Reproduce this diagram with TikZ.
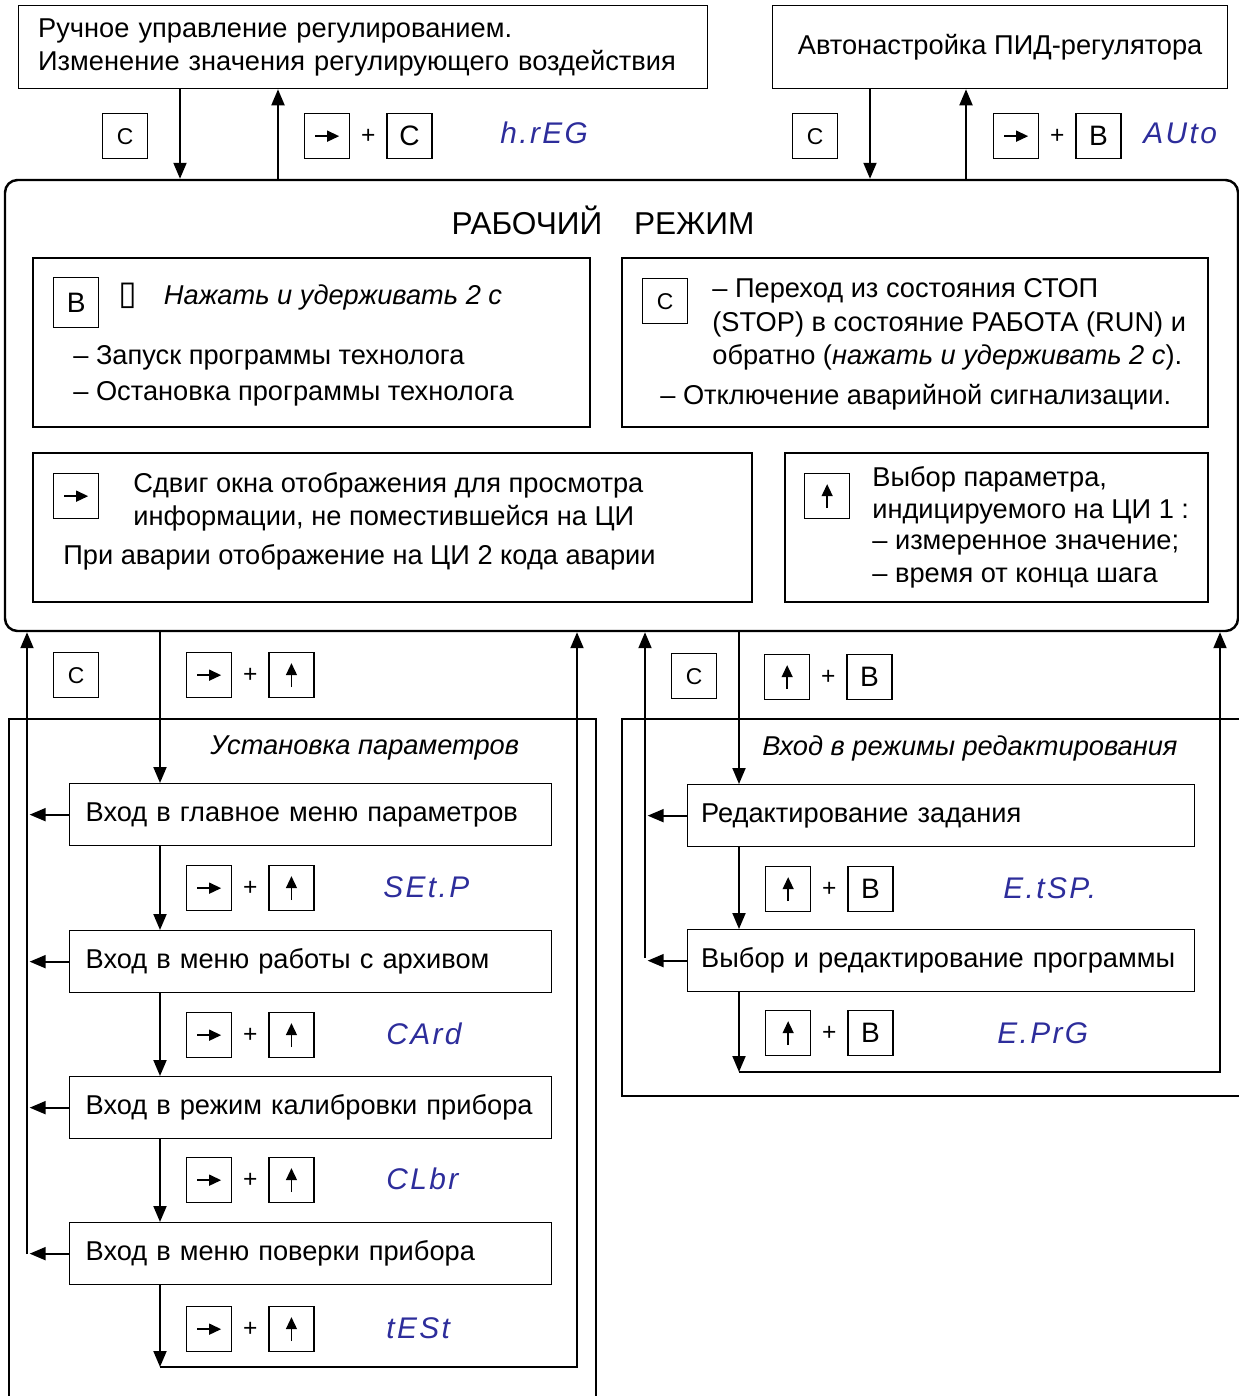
\documentclass[tikz,border=0pt]{standalone}
\usepackage{fontspec}
\setmainfont{Liberation Sans}
\newfontfamily\segfont[LetterSpace=8]{Liberation Sans}
\newfontfamily\symfont{DejaVu Sans}
\usetikzlibrary{arrows.meta,positioning,fit}

\definecolor{segblue}{RGB}{45,45,155}

\begin{document}
\begin{tikzpicture}[
        x=0.02cm, y=-0.02cm,
        font=\fontsize{15.5}{18.7}\selectfont,
        arr/.style={line width=1.1pt, -{Triangle[length=0.32cm,width=0.26cm]}},
        keyarr/.style={line width=0.8pt, -{Triangle[length=0.24cm,width=0.22cm]}},
        box/.style={draw, line width=0.75pt, inner sep=0pt},
        key/.style={draw, line width=0.75pt, minimum size=0.9cm, inner sep=0pt, anchor=north west},
        keyC/.style={key, font=\fontsize{13}{15}\selectfont},
        keyB/.style={key, font=\fontsize{16}{18}\selectfont},
        keyright/.style={key, path picture={\draw[keyarr] ([xshift=-0.24cm]path picture bounding box.center) -- ([xshift=0.24cm]path picture bounding box.center);}},
        keyup/.style={key, path picture={\draw[keyarr] ([yshift=-0.24cm]path picture bounding box.center) -- ([yshift=0.24cm]path picture bounding box.center);}},
        plus/.style={font=\fontsize{14}{16}\selectfont},
        seg/.style={font=\segfont\itshape\fontsize{17}{19}\selectfont, text=segblue, anchor=west, inner sep=0pt},
        txt/.style={anchor=west, inner sep=0pt},
        itxt/.style={txt, font=\fontsize{15.5}{18.7}\selectfont\itshape},
        menu/.style={box, anchor=north west, minimum width=9.64cm, minimum height=1.24cm, text width=9.0cm, align=left, inner xsep=0.32cm},
        edit/.style={box, anchor=north west, minimum width=10.14cm, minimum height=1.24cm, text width=9.6cm, align=left, inner xsep=0.27cm}
    ]
        \useasboundingbox (0,0) rectangle (1238,1396);

        % top boxes
        \node[box, anchor=north west, minimum width=13.78cm, minimum height=1.66cm, text width=13.0cm, inner xsep=0.34cm, align=left] (manual) at (18,5)
            {Ручное управление регулированием.\\Изменение значения регулирующего воздействия};
        \node[box, anchor=north west, minimum width=9.1cm, minimum height=1.66cm] (autotune) at (772,5) {Автонастройка ПИД-регулятора};

        % working mode
        \node[draw, line width=1.4pt, rounded corners=0.25cm, inner sep=0pt, fit={(5,180) (1238,631)}] (work) {};
        \node[font=\fontsize{18}{21}\selectfont] (title) at (603,220) {РАБОЧИЙ\quad РЕЖИМ};

        \node[box, fit={(33,258) (590,427)}] (boxB) {};
        \node[keyB, minimum height=1cm] (kB) at (53,277) {В};
        \node[itxt] (hold) at (118,297) {{\symfont\itshape\fontsize{19}{19}\selectfont ▯}\quad Нажать и удерживать 2 с};
        \node[txt] (runA) at (73,358) {– Запуск программы технолога};
        \node[txt] (runB) at (73,394) {– Остановка программы технолога};

        \node[box, fit={(622,258) (1208,427)}] (boxC) {};
        \node[keyC] (kC) at (642,278) {С};
        \node[txt] (stopA) at (712,291) {– Переход из состояния СТОП};
        \node[txt] (stopB) at (712,324) {(STOP) в состояние РАБОТА (RUN) и};
        \node[txt] (stopC) at (712,357) {обратно (\textit{нажать и удерживать 2 с}).};
        \node[txt] (alarm) at (660,397) {– Отключение аварийной сигнализации.};

        \node[box, fit={(33,453) (752,602)}] (boxR) {};
        \node[keyright] (kR) at (53,473) {};
        \node[txt] (shiftA) at (133,485) {Сдвиг окна отображения для просмотра};
        \node[txt] (shiftB) at (133,518) {информации, не поместившейся на ЦИ};
        \node[txt] (shiftC) at (63,557) {При аварии отображение на ЦИ 2 кода аварии};

        \node[box, fit={(785,453) (1208,602)}] (boxU) {};
        \node[keyup] (kU) at (804,473) {};
        \node[txt] (selA) at (872,479) {Выбор параметра,};
        \node[txt] (selB) at (872,512) {индицируемого на ЦИ 1 :};
        \node[txt] (selC) at (872,545) {– измеренное значение;};
        \node[txt] (selD) at (872,578) {– время от конца шага};

        % top connectors
        \coordinate (xA) at (180,0);
        \coordinate (xB) at (278,0);
        \coordinate (xC) at (870,0);
        \coordinate (xD) at (966,0);
        \draw[arr] (manual.south -| xA) -- (work.north -| xA);
        \draw[arr] (work.north -| xB) -- (manual.south -| xB);
        \draw[arr] (autotune.south -| xC) -- (work.north -| xC);
        \draw[arr] (work.north -| xD) -- (autotune.south -| xD);

        \node[keyC] (tC1) at (102,113) {С};
        \node[keyright] (tR1) at (304,113) {};
        \node[keyB, right=0.72cm of tR1] (tC2) {С};
        \path (tR1) -- node[plus] {+} (tC2);
        \node[seg] (dHreg) at (500,133) {h.rEG};

        \node[keyC] (tC3) at (792,113) {С};
        \node[keyright] (tR2) at (993,113) {};
        \node[keyB, right=0.72cm of tR2] (tB1) {В};
        \path (tR2) -- node[plus] {+} (tB1);
        \node[seg] (dAuto) at (1143,133) {AUto};

        % parameter setup
        \node[box, fit={(9,719) (596,1420)}] (setgrp) {};
        \node[itxt] (settitle) at (210,748) {Установка параметров};

        \node[menu] (m1) at (69,783) {Вход в главное меню параметров};
        \node[menu] (m2) at (69,930) {Вход в меню работы с архивом};
        \node[menu] (m3) at (69,1076) {Вход в режим калибровки прибора};
        \node[menu] (m4) at (69,1222) {Вход в меню поверки прибора};

        \coordinate (lret) at (27,1254);
        \coordinate (lbot) at (160,1367);
        \coordinate (rbot) at (577,1367);
        \draw[arr] (work.south -| lbot) -- (m1.north -| lbot);
        \draw[arr] (m1.south -| lbot) -- (m2.north -| lbot);
        \draw[arr] (m2.south -| lbot) -- (m3.north -| lbot);
        \draw[arr] (m3.south -| lbot) -- (m4.north -| lbot);
        \draw[arr] (m4.south -| lbot) -- (lbot);
        \draw[arr] (lbot) -- (rbot) -- (work.south -| rbot);
        \draw[arr] (lret) -- (work.south -| lret);
        \draw[arr] (m1.west) -- ([xshift=1.5pt]m1.west -| lret);
        \draw[arr] (m2.west) -- ([xshift=1.5pt]m2.west -| lret);
        \draw[arr] (m3.west) -- ([xshift=1.5pt]m3.west -| lret);
        \draw[arr] (m4.west) -- ([xshift=1.5pt]m4.west -| lret);

        \node[keyC] (sC) at (53,652) {С};
        \node[keyright] (sR0) at (186,652) {};
        \node[keyup, right=0.72cm of sR0] (sU0) {};
        \path (sR0) -- node[plus] {+} (sU0);

        \node[keyright] (sR1) at (186,865) {};
        \node[keyup, right=0.72cm of sR1] (sU1) {};
        \path (sR1) -- node[plus] {+} (sU1);
        \node[seg] (dSetp) at (383,887) {SEt.P};

        \node[keyright] (sR2) at (186,1012) {};
        \node[keyup, right=0.72cm of sR2] (sU2) {};
        \path (sR2) -- node[plus] {+} (sU2);
        \node[seg] (dCard) at (386,1034) {CArd};

        \node[keyright] (sR3) at (186,1157) {};
        \node[keyup, right=0.72cm of sR3] (sU3) {};
        \path (sR3) -- node[plus] {+} (sU3);
        \node[seg] (dClbr) at (386,1179) {CLbr};

        \node[keyright] (sR4) at (186,1306) {};
        \node[keyup, right=0.72cm of sR4] (sU4) {};
        \path (sR4) -- node[plus] {+} (sU4);
        \node[seg] (dTest) at (386,1328) {tESt};

        % edit modes
        \node[box, fit={(622,719) (1260,1096)}] (editgrp) {};
        \node[itxt] (edittitle) at (762,748) {Вход в режимы редактирования};

        \node[edit] (e1) at (687,784) {Редактирование задания};
        \node[edit] (e2) at (687,929) {Выбор и редактирование программы};

        \coordinate (rret) at (645,958);
        \coordinate (ebot) at (739,1072);
        \coordinate (eend) at (1220,1072);
        \draw[arr] (work.south -| ebot) -- (e1.north -| ebot);
        \draw[arr] (e1.south -| ebot) -- (e2.north -| ebot);
        \draw[arr] (e2.south -| ebot) -- (ebot);
        \draw[arr] (ebot) -- (eend) -- (work.south -| eend);
        \draw[arr] (rret) -- (work.south -| rret);
        \draw[arr] (e1.west) -- ([xshift=1.5pt]e1.west -| rret);
        \draw[arr] (e2.west) -- ([xshift=1.5pt]e2.west -| rret);

        \node[keyC] (eC) at (671,653) {С};
        \node[keyup] (eU0) at (764,654) {};
        \node[keyB, right=0.72cm of eU0] (eB0) {В};
        \path (eU0) -- node[plus] {+} (eB0);

        \node[keyup] (eU1) at (765,866) {};
        \node[keyB, right=0.72cm of eU1] (eB1) {В};
        \path (eU1) -- node[plus] {+} (eB1);
        \node[seg] (dEtsp) at (1003,888) {E.tSP.};

        \node[keyup] (eU2) at (765,1010) {};
        \node[keyB, right=0.72cm of eU2] (eB2) {В};
        \path (eU2) -- node[plus] {+} (eB2);
        \node[seg] (dEprg) at (997,1033) {E.PrG};

    \end{tikzpicture}
\end{document}
